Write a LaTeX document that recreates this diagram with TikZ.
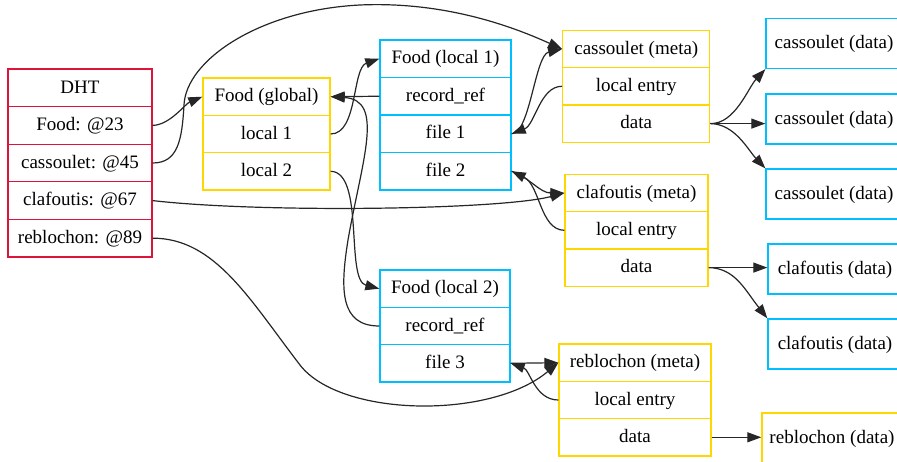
\documentclass[tikz,border=0pt]{standalone}
\usepackage{fontspec}
\setmainfont{Liberation Serif}
\usetikzlibrary{arrows.meta}
\definecolor{crim}{RGB}{220,20,60}
\definecolor{gld}{RGB}{255,215,0}
\definecolor{dsb}{RGB}{0,191,255}
\tikzset{
  cell/.style={rectangle, line width=1.35pt, inner sep=0pt,
    font=\fontsize{19}{22}\selectfont, text height=14.5pt, text depth=4pt},
  link/.style={line width=1.2pt, draw=black!85, -{Triangle[length=14pt,width=10pt]}},
}
\begin{document}
\begin{tikzpicture}[x=1pt,y=-1pt]
\useasboundingbox (0,0) rectangle (897,462);
% DHT
\begin{scope}[nodes={cell, draw=crim, minimum width=144pt, minimum height=37.6pt}]
\node (d0) at (80,87.8) {DHT};
\node (d1) at (80,125.4) {Food: @23};
\node (d2) at (80,163) {cassoulet: @45};
\node (d3) at (80,200.6) {clafoutis: @67};
\node (d4) at (80,238.2) {reblochon: @89};
\end{scope}
% Food (global)
\begin{scope}[nodes={cell, draw=gld, minimum width=127pt, minimum height=37.33pt}]
\node (g0) at (266.5,96.7) {Food (global)};
\node (g1) at (266.5,134) {local 1};
\node (g2) at (266.5,171.3) {local 2};
\end{scope}
% Food (local 1)
\begin{scope}[nodes={cell, draw=dsb, minimum width=131pt, minimum height=37.5pt}]
\node (la0) at (445.5,58.75) {Food (local 1)};
\node (la1) at (445.5,96.25) {record\_ref};
\node (la2) at (445.5,133.75) {file 1};
\node (la3) at (445.5,171.25) {file 2};
\end{scope}
% Food (local 2)
\begin{scope}[nodes={cell, draw=dsb, minimum width=130pt, minimum height=37.33pt}]
\node (lb0) at (445,288.7) {Food (local 2)};
\node (lb1) at (445,326) {record\_ref};
\node (lb2) at (445,363.3) {file 3};
\end{scope}
% cassoulet (meta)
\begin{scope}[nodes={cell, draw=gld, minimum width=147pt, minimum height=37.33pt}]
\node (cm0) at (636.3,49) {cassoulet (meta)};
\node (cm1) at (636.3,86.3) {local entry};
\node (cm2) at (636.3,123.6) {data};
\end{scope}
% clafoutis (meta)
\begin{scope}[nodes={cell, draw=gld, minimum width=143pt, minimum height=37.33pt}]
\node (fm0) at (636.5,193) {clafoutis (meta)};
\node (fm1) at (636.5,230.3) {local entry};
\node (fm2) at (636.5,267.6) {data};
\end{scope}
% reblochon (meta)
\begin{scope}[nodes={cell, draw=gld, minimum width=152pt, minimum height=37.33pt}]
\node (rm0) at (635,362.7) {reblochon (meta)};
\node (rm1) at (635,400) {local entry};
\node (rm2) at (635,437.3) {data};
\end{scope}
% data boxes
\begin{scope}[nodes={cell, draw=dsb, minimum height=50pt}]
\node[minimum width=136pt] (cd1) at (834,43.5) {cassoulet (data)};
\node[minimum width=136pt] (cd2) at (834,119) {cassoulet (data)};
\node[minimum width=136pt] (cd3) at (834,194) {cassoulet (data)};
\node[minimum width=134pt] (fd1) at (835,269) {clafoutis (data)};
\node[minimum width=134pt] (fd2) at (835,344) {clafoutis (data)};
\node[minimum width=140pt, draw=gld] (rd) at (832,438) {reblochon (data)};
\end{scope}
% connectors
\draw[link] (d1.east) .. controls (170,125) and (185,104) .. (g0.west);
\draw[link] (d2.east) .. controls (178,163) and (182,140) .. (184,105)
  .. controls (186,60) and (260,10) .. (360,5)
  .. controls (450,1) and (520,30) .. (cm0.west);
\draw[link] (d3.east) .. controls (260,213) and (500,210) .. (fm0.west);
\draw[link] (d4.east) .. controls (215,238) and (250,300) .. (300,365)
  .. controls (340,417) and (490,420) .. (rm0.west);
\draw[link] (g1.east) .. controls (358,134) and (352,68) .. (la0.west);
\draw[link] (g2.east) .. controls (365,172) and (345,280) .. (lb0.west);
\draw[link] (la1.west) -- (g0.east);
\draw[link] (lb1.west) .. controls (340,326) and (340,290) .. (348,240)
  .. controls (362,160) and (385,100) .. (g0.east);
\draw[link] (cm1.west) .. controls (540,86) and (535,125) .. (la2.east);
\draw[link] (la2.east) .. controls (530,134) and (535,55) .. (cm0.west);
\draw[link] (fm1.west) .. controls (540,230) and (540,185) .. (la3.east);
\draw[link] (la3.east) .. controls (530,178) and (540,193) .. (fm0.west);
\draw[link] (lb2.east) -- (rm0.west);
\draw[link] (rm1.west) .. controls (535,400) and (530,370) .. (lb2.east);
\draw[link] (cm2.east) .. controls (735,124) and (748,88) .. (cd1.south west);
\draw[link] (cm2.east) -- (cd2.west |- cm2.east);
\draw[link] (cm2.east) .. controls (735,124) and (748,150) .. (cd3.north west);
\draw[link] (fm2.east) -- (fd1.west |- fm2.east);
\draw[link] (fm2.east) .. controls (735,268) and (745,290) .. (fd2.north west);
\draw[link] (rm2.east) -- (rd.west |- rm2.east);
\end{tikzpicture}
\end{document}
